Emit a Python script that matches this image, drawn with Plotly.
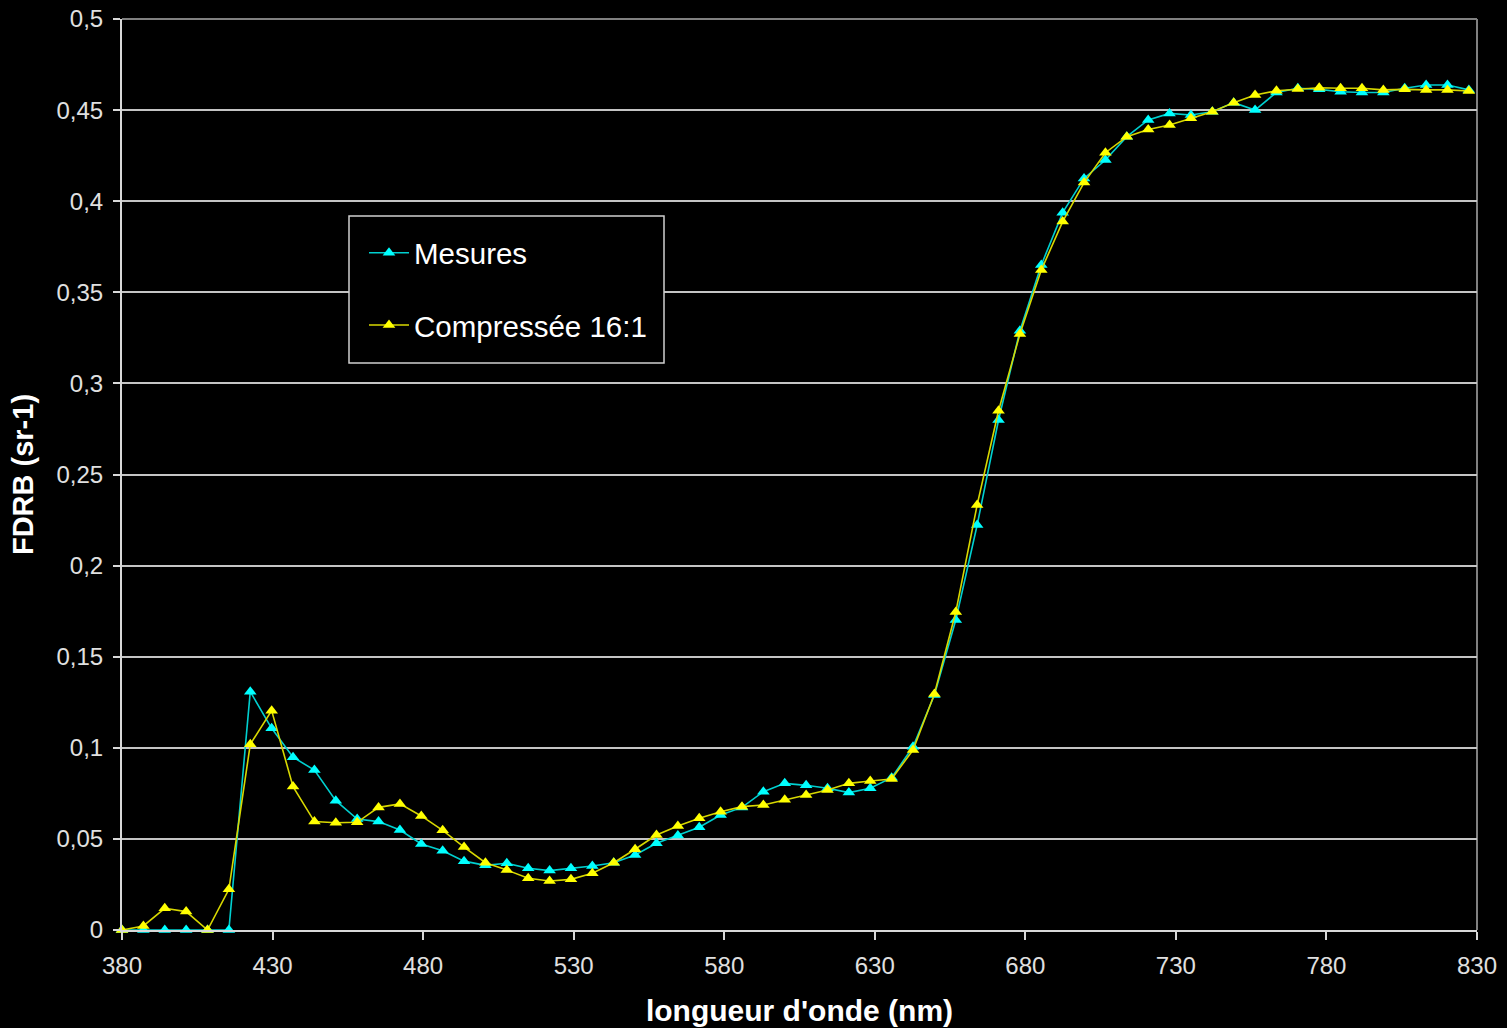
import plotly.graph_objects as go

wavelength = [
    380.0, 387.1, 394.2, 401.3, 408.4, 415.5, 422.6, 429.7, 436.8, 443.9,
    451.0, 458.1, 465.2, 472.3, 479.4, 486.5, 493.6, 500.7, 507.8, 514.9,
    522.0, 529.1, 536.2, 543.3, 550.4, 557.5, 564.6, 571.7, 578.8, 585.9,
    593.0, 600.1, 607.2, 614.3, 621.4, 628.5, 635.6, 642.7, 649.8, 656.9,
    664.0, 671.1, 678.2, 685.3, 692.4, 699.5, 706.6, 713.7, 720.8, 727.9,
    735.0, 742.1, 749.2, 756.3, 763.4, 770.5, 777.6, 784.7, 791.8, 798.9,
    806.0, 813.1, 820.2, 827.3,
]

mesures = [
    0, 0, 0, 0, 0, 0, 0.1308, 0.1107, 0.0948, 0.0878,
    0.0710, 0.0609, 0.0595, 0.0549, 0.0472, 0.0435, 0.0378, 0.0355, 0.0366, 0.0339,
    0.0326, 0.0339, 0.0351, 0.0369, 0.0412, 0.0476, 0.0518, 0.0564, 0.0631, 0.0673,
    0.0759, 0.0805, 0.0794, 0.0778, 0.0754, 0.0778, 0.0836, 0.1006, 0.1290, 0.1701,
    0.2223, 0.2799, 0.3289, 0.3650, 0.3937, 0.4125, 0.4226, 0.4354, 0.4446, 0.4482,
    0.4473, 0.4491, 0.4541, 0.4500, 0.4597, 0.4620, 0.4614, 0.4601, 0.4597, 0.4597,
    0.4620, 0.4638, 0.4638, 0.4611,
]

compressee = [
    0, 0.0022, 0.0119, 0.0101, 0, 0.0223, 0.1019, 0.1204, 0.0787, 0.0595,
    0.0589, 0.0591, 0.0673, 0.0692, 0.0626, 0.0547, 0.0455, 0.0369, 0.0329, 0.0284,
    0.0269, 0.0278, 0.0311, 0.0369, 0.0443, 0.0521, 0.0571, 0.0613, 0.0649, 0.0677,
    0.0686, 0.0715, 0.0741, 0.0768, 0.0805, 0.0818, 0.0829, 0.0988, 0.1295, 0.1745,
    0.2333, 0.2850, 0.3271, 0.3622, 0.3888, 0.4102, 0.4266, 0.4354, 0.4394, 0.4418,
    0.4455, 0.4491, 0.4541, 0.4583, 0.4606, 0.4616, 0.4623, 0.4620, 0.4620, 0.4611,
    0.4614, 0.4611, 0.4611, 0.4605,
]

x_ticks = [380, 430, 480, 530, 580, 630, 680, 730, 780, 830]
y_ticks = [0, 0.05, 0.1, 0.15, 0.2, 0.25, 0.3, 0.35, 0.4, 0.45, 0.5]
y_tick_text = ["0", "0,05", "0,1", "0,15", "0,2", "0,25", "0,3", "0,35", "0,4", "0,45", "0,5"]

series_names = ["Mesures", "Compressée 16:1"]

fig = go.Figure()
fig.add_trace(go.Scatter(
    x=wavelength, y=mesures, name=series_names[0], mode="lines+markers",
    line=dict(color="#00d0d0", width=1.6),
    marker=dict(symbol="triangle-up", size=11, color="#00ffff"),
    legendgroup="a", cliponaxis=False,
))
fig.add_trace(go.Scatter(
    x=wavelength, y=compressee, name=series_names[1], mode="lines+markers",
    line=dict(color="#d8d800", width=1.6),
    marker=dict(symbol="triangle-up", size=11, color="#ffff00"),
    legendgroup="b", cliponaxis=False,
))

W, H = 1507, 1028
L, R, T, B = 122, 30, 19, 98
pw, ph = W - L - R, H - T - B

def px_x(p):
    return (p - L) / pw

def px_y(p):
    return (H - B - p) / ph

fig.update_layout(
    width=W, height=H,
    margin=dict(l=L, r=R, t=T, b=B, autoexpand=False),
    paper_bgcolor="black", plot_bgcolor="black",
    font=dict(family="Liberation Sans, Arial, sans-serif", color="white"),
    showlegend=True,
    legend=dict(
        x=px_x(364), y=px_y(227), xanchor="left", yanchor="top",
        bgcolor="rgba(0,0,0,0)", borderwidth=0,
        font=dict(size=29.5, color="white"),
        tracegroupgap=31, itemwidth=40,
    ),
    xaxis=dict(
        range=[380, 830], tickvals=x_ticks, ticktext=[str(v) for v in x_ticks],
        showgrid=False, zeroline=False,
        showline=True, linecolor="#d8d8d8", linewidth=2,
        ticks="outside", ticklen=8, tickwidth=2, tickcolor="#d8d8d8",
        ticklabelstandoff=5,
        tickfont=dict(size=24, color="#e0e0e0"),
        title=dict(text="<b>longueur d'onde (nm)</b>", font=dict(size=30, color="white"), standoff=22),
    ),
    yaxis=dict(
        range=[0, 0.5], tickvals=y_ticks, ticktext=y_tick_text,
        showgrid=True, gridcolor="#c4c4c4", gridwidth=1.5, zeroline=False,
        showline=True, linecolor="#d8d8d8", linewidth=2,
        ticks="outside", ticklen=7, tickwidth=2, tickcolor="#d8d8d8",
        ticklabelstandoff=5,
        tickfont=dict(size=24, color="#e0e0e0"),
        title=dict(text="<b>FDRB (sr-1)</b>", font=dict(size=29, color="white"), standoff=14),
    ),
    shapes=[
        dict(type="line", xref="paper", yref="paper", x0=0, x1=1, y0=1, y1=1,
             line=dict(color="#808080", width=2), layer="below"),
        dict(type="line", xref="paper", yref="paper", x0=1, x1=1, y0=0, y1=1,
             line=dict(color="#808080", width=2), layer="below"),
        dict(type="rect", xref="paper", yref="paper",
             x0=px_x(349), x1=px_x(664), y0=px_y(363), y1=px_y(216),
             fillcolor="black", line=dict(color="#d0d0d0", width=1.5), layer="above"),
    ],
)

fig.write_html("out.html")
